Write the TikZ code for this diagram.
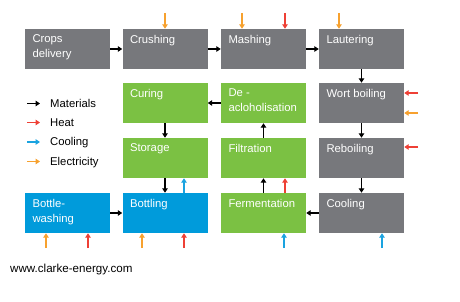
\documentclass[tikz,border=0pt]{standalone}
\usepackage{fontspec}
\setmainfont{Liberation Sans}
\usetikzlibrary{arrows.meta,calc}
\definecolor{boxgrey}{HTML}{77787C}
\definecolor{boxgreen}{HTML}{7BC143}
\definecolor{boxblue}{HTML}{009BDB}
\definecolor{arrorange}{HTML}{F7A12E}
\definecolor{arrred}{HTML}{EE4035}
\definecolor{arrblue}{HTML}{1AA3E0}
\begin{document}
\begin{tikzpicture}[x=1pt,y=-1pt,
  font=\fontsize{11.3}{15}\selectfont,
  stagebox/.style={rectangle, inner sep=0, minimum width=85pt, minimum height=40pt, draw=none},
  greybox/.style={stagebox, fill=boxgrey},
  greenbox/.style={stagebox, fill=boxgreen},
  bluebox/.style={stagebox, fill=boxblue},
  lbl/.style={anchor=north west, inner sep=0, text=white, align=left, xshift=7.5pt, yshift=-6pt},
  flow/.style={line width=1.5pt, -{Triangle[length=4.5pt,width=5.5pt]}},
  mat/.style={flow, black},
  heat/.style={flow, arrred},
  cool/.style={flow, arrblue},
  elec/.style={flow, arrorange},
  legtext/.style={anchor=base west, inner sep=0, text=black}
]
\useasboundingbox (0,0) rectangle (460,302);

% row 1
\node[greybox, label={[lbl]north west:{Crops\\delivery}}] (crops) at (67.5,49) {};
\node[greybox, label={[lbl]north west:Crushing}] (crush) at (165,49) {};
\node[greybox, label={[lbl]north west:Mashing}] (mash) at (263.5,49) {};
\node[greybox, label={[lbl]north west:Lautering}] (laut) at (361.5,49) {};
% row 2
\node[greenbox, label={[lbl]north west:Curing}] (cur) at (165,103) {};
\node[greenbox, label={[lbl]north west:{De -\\acloholisation}}] (dealc) at (263.5,103) {};
\node[greybox, label={[lbl]north west:Wort boiling}] (wort) at (361.5,103) {};
% row 3
\node[greenbox, label={[lbl]north west:Storage}] (stor) at (165,158) {};
\node[greenbox, label={[lbl]north west:Filtration}] (filt) at (263.5,158) {};
\node[greybox, label={[lbl]north west:Reboiling}] (reb) at (361.5,158) {};
% row 4
\node[bluebox, label={[lbl]north west:{Bottle-\\washing}}] (bwash) at (67.5,213) {};
\node[bluebox, label={[lbl]north west:Bottling}] (bott) at (165,213) {};
\node[greenbox, label={[lbl]north west:Fermentation}] (ferm) at (263.5,213) {};
\node[greybox, label={[lbl]north west:Cooling}] (cool) at (361.5,213) {};

% material flow
\draw[mat] (crops) -- (crush);
\draw[mat] (crush) -- (mash);
\draw[mat] (mash) -- (laut);
\draw[mat] (laut) -- (wort);
\draw[mat] (wort) -- (reb);
\draw[mat] (reb) -- (cool);
\draw[mat] (cool) -- (ferm);
\draw[mat] (ferm) -- (filt);
\draw[mat] (filt) -- (dealc);
\draw[mat] (dealc) -- (cur);
\draw[mat] (cur) -- (stor);
\draw[mat] (stor) -- (bott);
\draw[mat] (bwash) -- (bott);

% utility inputs
\coordinate (e1) at (165,13);
\coordinate (e2) at (242,13);
\coordinate (h2) at (285,13);
\coordinate (e3) at (339,13);
\draw[elec] (e1) -- (e1 |- crush.north);
\draw[elec] (e2) -- (e2 |- mash.north);
\draw[heat] (h2) -- (h2 |- mash.north);
\draw[elec] (e3) -- (e3 |- laut.north);

\coordinate (hw) at (418,93);
\coordinate (ew) at (418,113);
\coordinate (hr) at (418,147);
\draw[heat] (hw) -- (hw -| wort.east);
\draw[elec] (ew) -- (ew -| wort.east);
\draw[heat] (hr) -- (hr -| reb.east);

\coordinate (eb1) at (46,248);
\coordinate (hb1) at (88,248);
\coordinate (eb2) at (142,248);
\coordinate (hb2) at (184,248);
\coordinate (cf) at (284,248);
\coordinate (cc) at (382,248);
\draw[elec] (eb1) -- (eb1 |- bwash.south);
\draw[heat] (hb1) -- (hb1 |- bwash.south);
\draw[elec] (eb2) -- (eb2 |- bott.south);
\draw[heat] (hb2) -- (hb2 |- bott.south);
\draw[cool] (cf) -- (cf |- ferm.south);
\draw[cool] (cc) -- (cc |- cool.south);

\draw[cool] ($(bott.north)+(19,0)$) -- ($(stor.south)+(19,0)$);
\draw[heat] ($(ferm.north)+(21.5,0)$) -- ($(filt.south)+(21.5,0)$);

% legend
\node[legtext] (lm) at (50,107.5) {Materials};
\node[legtext] (lh) at (50,126.5) {Heat};
\node[legtext] (lc) at (50,146) {Cooling};
\node[legtext] (le) at (50,165.5) {Electricity};
\coordinate (lm0) at (27,103.5);
\coordinate (lh0) at (27,122.5);
\coordinate (lc0) at (27,142);
\coordinate (le0) at (27,161.5);
\draw[mat] (lm0) -- ++(13,0);
\draw[heat] (lh0) -- ++(13,0);
\draw[cool] (lc0) -- ++(13,0);
\draw[elec] (le0) -- ++(13,0);

% source
\node[anchor=base west, inner sep=0, text=black, font=\fontsize{11.6}{14}\selectfont] (url) at (10,272) {www.clarke-energy.com};
\end{tikzpicture}
\end{document}
